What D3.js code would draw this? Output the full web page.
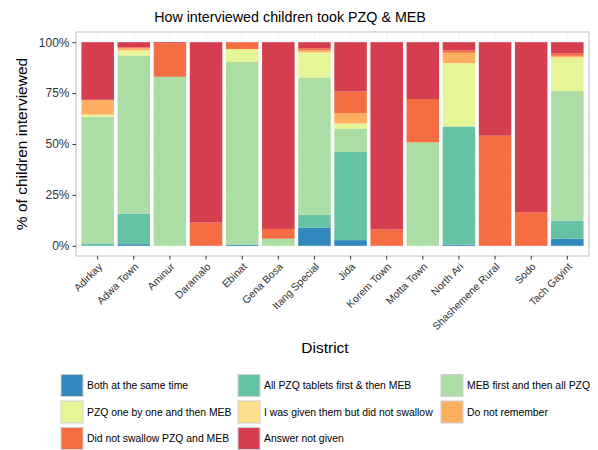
<!DOCTYPE html>
<html>
<head>
<meta charset="utf-8">
<script src="https://cdn.jsdelivr.net/npm/d3@7"></script>
<style>
  body { margin: 0; background: #fff; }
  svg { font-family: "Liberation Sans", Arial, sans-serif; display: block; }
</style>
</head>
<body>
<div id="chart"></div>
<script>
const districts = ["Adirkay", "Adwa Town", "Aminur", "Daramalo", "Ebinat", "Gena Bosa", "Itang Special",
  "Jida", "Korem Town", "Motta Town", "North Ari", "Shashemene Rural", "Sodo", "Tach Gayint"];

const answers = ["Both at the same time", "All PZQ tablets first & then MEB", "MEB first and then all PZQ",
  "PZQ one by one and then MEB", "I was given them but did not swallow", "Do not remember",
  "Did not swallow PZQ and MEB", "Answer not given"];

const colors = ["#3288bd", "#66c2a5", "#abdda4", "#e6f598", "#fee08b", "#fdae61", "#f46d43", "#d53e4f"];

// % of children per district, one array per answer
const bothSameTime  = [0, 0.8, 0, 0, 0.6, 0, 9, 2.8, 0, 0, 0.6, 0, 0, 3.6];
const allPzqFirst   = [1.2, 15, 0, 0, 0, 0, 6.2, 43.3, 0, 0, 58, 0, 0, 8.7];
const mebFirst      = [62.2, 77.7, 83, 0, 89.7, 3.5, 67.5, 11.3, 0, 50.8, 0, 0, 0, 63.7];
const pzqOneByOne   = [1, 2, 0, 0, 6.3, 0, 12, 2.7, 0, 0, 31.1, 0, 0, 16];
const givenNotSwal  = [0, 0.7, 0, 0, 0, 0, 0.5, 0, 0, 0, 0, 0, 0, 0.6];
const notRemember   = [7.3, 0.8, 0, 0, 0, 0, 0.8, 5.1, 0, 0, 5.1, 0, 0, 0.7];
const didNotSwallow = [0, 0.5, 16.5, 11.4, 3.4, 4.8, 1, 10.6, 8, 21.3, 1.2, 54.1, 16.5, 1.3];
const notGiven      = [28.3, 2.5, 0.5, 88.6, 0, 91.7, 3, 24.2, 92, 27.9, 4, 45.9, 83.5, 5.4];

const yTicks = [0, 25, 50, 75, 100];

const seriesValues = [bothSameTime, allPzqFirst, mebFirst, pzqOneByOne, givenNotSwal, notRemember, didNotSwallow, notGiven];

const table = districts.map((d, i) => {
  const row = {district: d};
  answers.forEach((a, j) => row[a] = seriesValues[j][i]);
  return row;
});

const width = 598, height = 450;
const panel = {left: 76, right: 589, top: 32, bottom: 256};

const svg = d3.select("#chart").append("svg")
    .attr("width", width)
    .attr("height", height);

const x = d3.scaleBand()
    .domain(districts)
    .range([panel.left, panel.right])
    .paddingInner(0.1)
    .paddingOuter(0.15);

const y = d3.scaleLinear()
    .domain([-5, 105])
    .range([panel.bottom, panel.top]);

const color = d3.scaleOrdinal(answers, colors);

// panel background + grid
svg.append("rect")
    .attr("x", panel.left).attr("y", panel.top)
    .attr("width", panel.right - panel.left).attr("height", panel.bottom - panel.top)
    .attr("fill", "#fff");

const grid = svg.append("g").attr("stroke-width", 0.5);
grid.selectAll(".minor")
  .data([12.5, 37.5, 62.5, 87.5])
  .join("line")
    .attr("x1", panel.left).attr("x2", panel.right)
    .attr("y1", d => y(d)).attr("y2", d => y(d))
    .attr("stroke", "#f5f5f5");
grid.selectAll(".majorY")
  .data(yTicks)
  .join("line")
    .attr("x1", panel.left).attr("x2", panel.right)
    .attr("y1", d => y(d)).attr("y2", d => y(d))
    .attr("stroke", "#ebebeb");
grid.selectAll(".majorX")
  .data(districts)
  .join("line")
    .attr("x1", d => x(d) + x.bandwidth() / 2).attr("x2", d => x(d) + x.bandwidth() / 2)
    .attr("y1", panel.top).attr("y2", panel.bottom)
    .attr("stroke", "#ebebeb");

// stacked bars
const stacked = d3.stack().keys(answers)(table);

svg.append("g")
  .selectAll("g")
  .data(stacked)
  .join("g")
    .attr("fill", d => color(d.key))
  .selectAll("rect")
  .data(d => d)
  .join("rect")
    .attr("x", d => x(d.data.district))
    .attr("y", d => y(d[1]))
    .attr("width", x.bandwidth())
    .attr("height", d => Math.max(0, y(d[0]) - y(d[1])));

// panel border
svg.append("rect")
    .attr("x", panel.left).attr("y", panel.top)
    .attr("width", panel.right - panel.left).attr("height", panel.bottom - panel.top)
    .attr("fill", "none")
    .attr("stroke", "#bdbdbd")
    .attr("stroke-width", 1);

// y axis
const yAxis = svg.append("g").attr("transform", `translate(${panel.left},0)`)
    .call(d3.axisLeft(y).tickValues(yTicks).tickFormat(d => d + "%").tickSize(3.5).tickPadding(3));
yAxis.select(".domain").remove();
yAxis.selectAll(".tick line").attr("stroke", "#333");
yAxis.selectAll(".tick text")
    .attr("fill", "#333")
    .style("font-size", "12px")
    .style("font-family", "Liberation Sans, Arial, sans-serif");

// x axis
const xAxis = svg.append("g").attr("transform", `translate(0,${panel.bottom})`)
    .call(d3.axisBottom(x).tickSize(3.5).tickSizeOuter(0));
xAxis.select(".domain").remove();
xAxis.selectAll(".tick line").attr("stroke", "#333");
xAxis.selectAll(".tick text")
    .attr("fill", "#333")
    .style("font-size", "10.5px")
    .style("font-family", "Liberation Sans, Arial, sans-serif")
    .attr("text-anchor", "end")
    .attr("x", 0).attr("y", 0).attr("dy", "0.71em")
    .attr("transform", "translate(0,6) rotate(-45)");

// titles
svg.append("text")
    .attr("x", 290).attr("y", 22)
    .attr("text-anchor", "middle")
    .style("font-size", "14.3px")
    .attr("fill", "#000")
    .text("How interviewed children took PZQ & MEB");

svg.append("text")
    .attr("x", 325).attr("y", 353)
    .attr("text-anchor", "middle")
    .style("font-size", "15.5px")
    .attr("fill", "#000")
    .text("District");

svg.append("text")
    .attr("transform", `translate(27,${(panel.top + panel.bottom) / 2}) rotate(-90)`)
    .attr("text-anchor", "middle")
    .style("font-size", "15.5px")
    .attr("fill", "#000")
    .text("% of children interviewed");

// legend, three columns filled by row
const legendCols = [61, 238, 441];
const legendRows = [374.5, 401, 427.5];
const legend = svg.append("g")
  .selectAll("g")
  .data(answers)
  .join("g")
    .attr("transform", (d, i) => `translate(${legendCols[i % 3]},${legendRows[Math.floor(i / 3)]})`);

legend.append("rect")
    .attr("width", 22).attr("height", 22)
    .attr("fill", d => color(d))
    .attr("stroke", "#d0d0d0")
    .attr("stroke-width", 1);

legend.append("text")
    .attr("x", 26).attr("y", 11).attr("dy", "0.35em")
    .style("font-size", "10.4px")
    .attr("fill", "#000")
    .text(d => d);
</script>
</body>
</html>
